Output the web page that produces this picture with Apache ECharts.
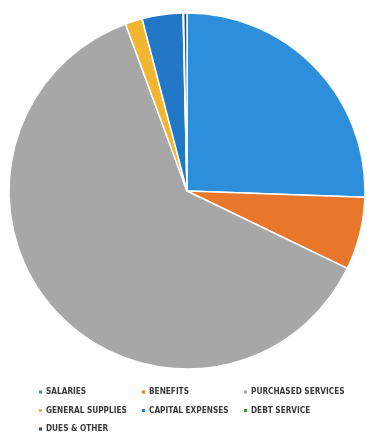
<!DOCTYPE html>
<html>
<head>
<meta charset="utf-8">
<script src="https://cdn.jsdelivr.net/npm/echarts@6/dist/echarts.min.js"></script>
<style>html,body{margin:0;padding:0;background:#fff;}#c{width:367px;height:435px;}</style>
</head>
<body>
<div id="c"></div>
<script>
const categories = ['SALARIES','BENEFITS','PURCHASED SERVICES','GENERAL SUPPLIES','CAPITAL EXPENSES','DEBT SERVICE','DUES & OTHER'];
const values = [25.5, 6.6, 62.1, 1.55, 3.7, 0.05, 0.3];
const colors = ['#2D8FDB','#E8762B','#A7A7A7','#F2B530','#2277C7','#3C9A3C','#1F4E9C'];
const legendCols = [
  ['SALARIES','GENERAL SUPPLIES','DUES & OTHER'],
  ['BENEFITS','CAPITAL EXPENSES'],
  ['PURCHASED SERVICES','DEBT SERVICE']
];
const legendLeft = [37, 140, 242];

const chart = echarts.init(document.getElementById('c'));
chart.setOption({
  animation: false,
  color: colors,
  legend: legendCols.map((col, i) => ({
    data: col,
    orient: 'vertical',
    left: legendLeft[i],
    top: 388,
    itemGap: 10.5,
    itemWidth: 5,
    itemHeight: 5,
    icon: 'rect',
    padding: 0,
    selectedMode: false,
    textStyle: {
      fontFamily: '"DejaVu Sans Condensed", sans-serif',
      fontWeight: 'bold',
      fontSize: 8.2,
      color: '#3a3a3a',
      padding: [0, 0, 0, -2]
    }
  })),
  series: [{
    type: 'pie',
    center: [187, 191],
    radius: 178,
    startAngle: 90,
    clockwise: true,
    label: { show: false },
    labelLine: { show: false },
    itemStyle: { borderColor: '#fff', borderWidth: 1.5 },
    emphasis: { disabled: true },
    data: categories.map((n, i) => ({ name: n, value: values[i] }))
  }]
});
</script>
</body>
</html>
